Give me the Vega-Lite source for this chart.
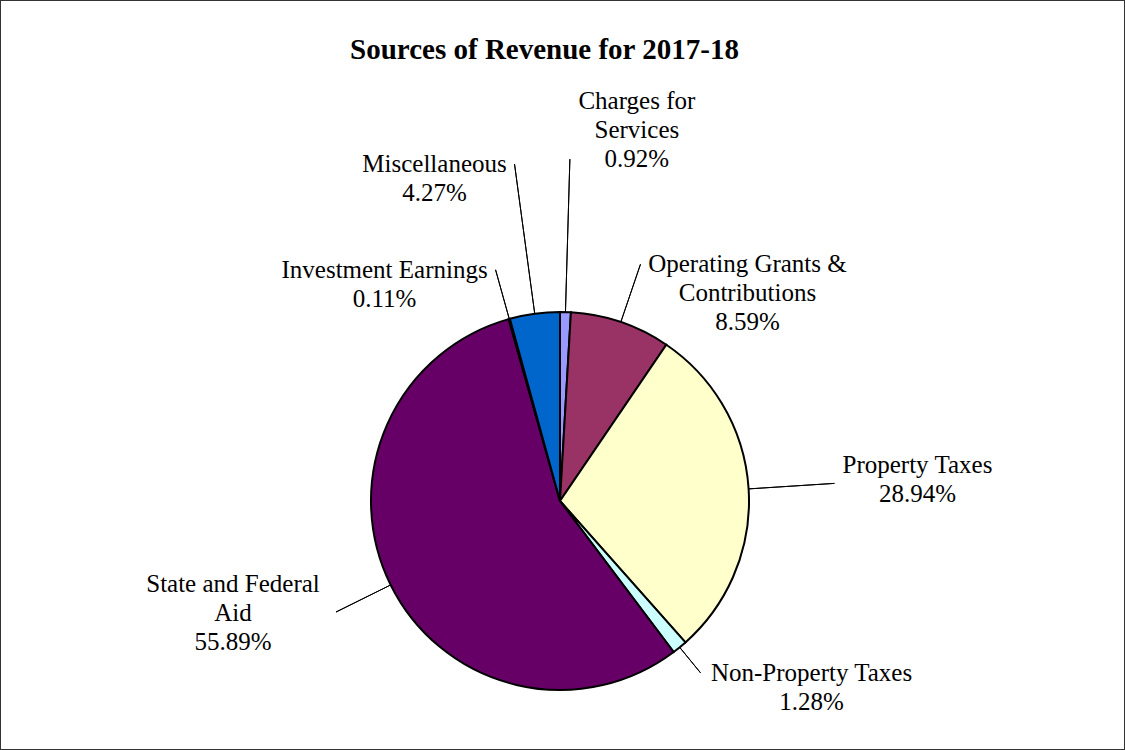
{
  "$schema": "https://vega.github.io/schema/vega-lite/v6.json",
  "width": 1125,
  "height": 750,
  "autosize": {"type": "none"},
  "padding": 0,
  "background": "white",
  "title": {
    "text": "Sources of Revenue for 2017-18",
    "font": "Liberation Serif",
    "fontSize": 29,
    "fontWeight": "bold",
    "color": "black",
    "anchor": "middle",
    "dx": -18,
    "offset": -88,
    "baseline": "alphabetic"
  },
  "data": {
    "values": [
      {"category": "Charges for Services", "label": "Charges for\nServices\n0.92%", "value": 0.92, "order": 1},
      {"category": "Operating Grants & Contributions", "label": "Operating Grants &\nContributions\n8.59%", "value": 8.59, "order": 2},
      {"category": "Property Taxes", "label": "Property Taxes\n28.94%", "value": 28.94, "order": 3},
      {"category": "Non-Property Taxes", "label": "Non-Property Taxes\n1.28%", "value": 1.28, "order": 4},
      {"category": "State and Federal Aid", "label": "State and Federal\nAid\n55.89%", "value": 55.89, "order": 5},
      {"category": "Investment Earnings", "label": "Investment Earnings\n0.11%", "value": 0.11, "order": 6},
      {"category": "Miscellaneous", "label": "Miscellaneous\n4.27%", "value": 4.27, "order": 7}
    ]
  },
  "transform": [
    {"stack": "value", "groupby": [], "sort": [{"field": "order", "order": "ascending"}], "as": ["v0", "v1"]},
    {"fold": ["v0", "v1"], "as": ["edge", "pos"]},
    {"aggregate": [{"op": "mean", "field": "pos", "as": "mid"}], "groupby": ["category", "label", "value", "order", "v0", "v1"]}
  ],
  "encoding": {
    "x": {"datum": 0, "type": "quantitative", "scale": {"domain": [-1, 1.00893], "nice": false, "zero": false}, "axis": null},
    "y": {"datum": 0, "type": "quantitative", "scale": {"domain": [-1, 2.01205], "nice": false, "zero": false}, "axis": null}
  },
  "layer": [
    {
      "mark": {"type": "arc", "radius": 189, "stroke": "black", "strokeWidth": 2},
      "encoding": {
        "theta": {"field": "v0", "type": "quantitative", "stack": null, "scale": {"domain": [0, 100]}},
        "theta2": {"field": "v1"},
        "color": {
          "field": "category",
          "type": "nominal",
          "scale": {
            "domain": ["Charges for Services", "Operating Grants & Contributions", "Property Taxes", "Non-Property Taxes", "State and Federal Aid", "Investment Earnings", "Miscellaneous"],
            "range": ["#9999FF", "#993366", "#FFFFCC", "#CCFFFF", "#660066", "#FF8080", "#0066CC"]
          },
          "legend": null
        }
      }
    },
    {
      "transform": [{"filter": "datum.category === 'Charges for Services'"}],
      "layer": [
        {"mark": {"type": "arc", "radius": 342, "radius2": 189, "filled": false, "stroke": "black", "strokeWidth": 1},
         "encoding": {"theta": {"field": "mid", "type": "quantitative", "stack": null, "scale": {"domain": [0, 100]}}, "theta2": {"field": "mid"}}},
        {"mark": {"type": "text", "font": "Liberation Serif", "fontSize": 25, "lineHeight": 29, "lineBreak": "\n", "align": "center", "baseline": "alphabetic", "color": "black", "radius": 342, "dx": 67, "dy": -50},
         "encoding": {"theta": {"field": "mid", "type": "quantitative", "stack": null, "scale": {"domain": [0, 100]}}, "text": {"field": "label"}}}
      ]
    },
    {
      "transform": [{"filter": "datum.category === 'Operating Grants & Contributions'"}],
      "layer": [
        {"mark": {"type": "arc", "radius": 250, "radius2": 189, "filled": false, "stroke": "black", "strokeWidth": 1},
         "encoding": {"theta": {"field": "mid", "type": "quantitative", "stack": null, "scale": {"domain": [0, 100]}}, "theta2": {"field": "mid"}}},
        {"mark": {"type": "text", "font": "Liberation Serif", "fontSize": 25, "lineHeight": 29, "lineBreak": "\n", "align": "center", "baseline": "alphabetic", "color": "black", "radius": 250, "dx": 107, "dy": 8},
         "encoding": {"theta": {"field": "mid", "type": "quantitative", "stack": null, "scale": {"domain": [0, 100]}}, "text": {"field": "label"}}}
      ]
    },
    {
      "transform": [{"filter": "datum.category === 'Property Taxes'"}],
      "layer": [
        {"mark": {"type": "arc", "radius": 275, "radius2": 189, "filled": false, "stroke": "black", "strokeWidth": 1},
         "encoding": {"theta": {"field": "mid", "type": "quantitative", "stack": null, "scale": {"domain": [0, 100]}}, "theta2": {"field": "mid"}}},
        {"mark": {"type": "text", "font": "Liberation Serif", "fontSize": 25, "lineHeight": 29, "lineBreak": "\n", "align": "center", "baseline": "alphabetic", "color": "black", "radius": 275, "dx": 83, "dy": -10},
         "encoding": {"theta": {"field": "mid", "type": "quantitative", "stack": null, "scale": {"domain": [0, 100]}}, "text": {"field": "label"}}}
      ]
    },
    {
      "transform": [{"filter": "datum.category === 'Non-Property Taxes'"}],
      "layer": [
        {"mark": {"type": "arc", "radius": 222, "radius2": 189, "filled": false, "stroke": "black", "strokeWidth": 1},
         "encoding": {"theta": {"field": "mid", "type": "quantitative", "stack": null, "scale": {"domain": [0, 100]}}, "theta2": {"field": "mid"}}},
        {"mark": {"type": "text", "font": "Liberation Serif", "fontSize": 25, "lineHeight": 29, "lineBreak": "\n", "align": "center", "baseline": "alphabetic", "color": "black", "radius": 222, "dx": 111, "dy": 8},
         "encoding": {"theta": {"field": "mid", "type": "quantitative", "stack": null, "scale": {"domain": [0, 100]}}, "text": {"field": "label"}}}
      ]
    },
    {
      "transform": [{"filter": "datum.category === 'State and Federal Aid'"}],
      "layer": [
        {"mark": {"type": "arc", "radius": 250, "radius2": 189, "filled": false, "stroke": "black", "strokeWidth": 1},
         "encoding": {"theta": {"field": "mid", "type": "quantitative", "stack": null, "scale": {"domain": [0, 100]}}, "theta2": {"field": "mid"}}},
        {"mark": {"type": "text", "font": "Liberation Serif", "fontSize": 25, "lineHeight": 29, "lineBreak": "\n", "align": "center", "baseline": "alphabetic", "color": "black", "radius": 250, "dx": -103, "dy": -20},
         "encoding": {"theta": {"field": "mid", "type": "quantitative", "stack": null, "scale": {"domain": [0, 100]}}, "text": {"field": "label"}}}
      ]
    },
    {
      "transform": [{"filter": "datum.category === 'Investment Earnings'"}],
      "layer": [
        {"mark": {"type": "arc", "radius": 240, "radius2": 189, "filled": false, "stroke": "black", "strokeWidth": 1},
         "encoding": {"theta": {"field": "mid", "type": "quantitative", "stack": null, "scale": {"domain": [0, 100]}}, "theta2": {"field": "mid"}}},
        {"mark": {"type": "text", "font": "Liberation Serif", "fontSize": 25, "lineHeight": 29, "lineBreak": "\n", "align": "center", "baseline": "alphabetic", "color": "black", "radius": 240, "dx": -111, "dy": 8},
         "encoding": {"theta": {"field": "mid", "type": "quantitative", "stack": null, "scale": {"domain": [0, 100]}}, "text": {"field": "label"}}}
      ]
    },
    {
      "transform": [{"filter": "datum.category === 'Miscellaneous'"}],
      "layer": [
        {"mark": {"type": "arc", "radius": 340, "radius2": 189, "filled": false, "stroke": "black", "strokeWidth": 1},
         "encoding": {"theta": {"field": "mid", "type": "quantitative", "stack": null, "scale": {"domain": [0, 100]}}, "theta2": {"field": "mid"}}},
        {"mark": {"type": "text", "font": "Liberation Serif", "fontSize": 25, "lineHeight": 29, "lineBreak": "\n", "align": "center", "baseline": "alphabetic", "color": "black", "radius": 340, "dx": -80, "dy": 8},
         "encoding": {"theta": {"field": "mid", "type": "quantitative", "stack": null, "scale": {"domain": [0, 100]}}, "text": {"field": "label"}}}
      ]
    }
  ],
  "config": {"view": {"stroke": "#333333", "strokeWidth": 2}}
}
